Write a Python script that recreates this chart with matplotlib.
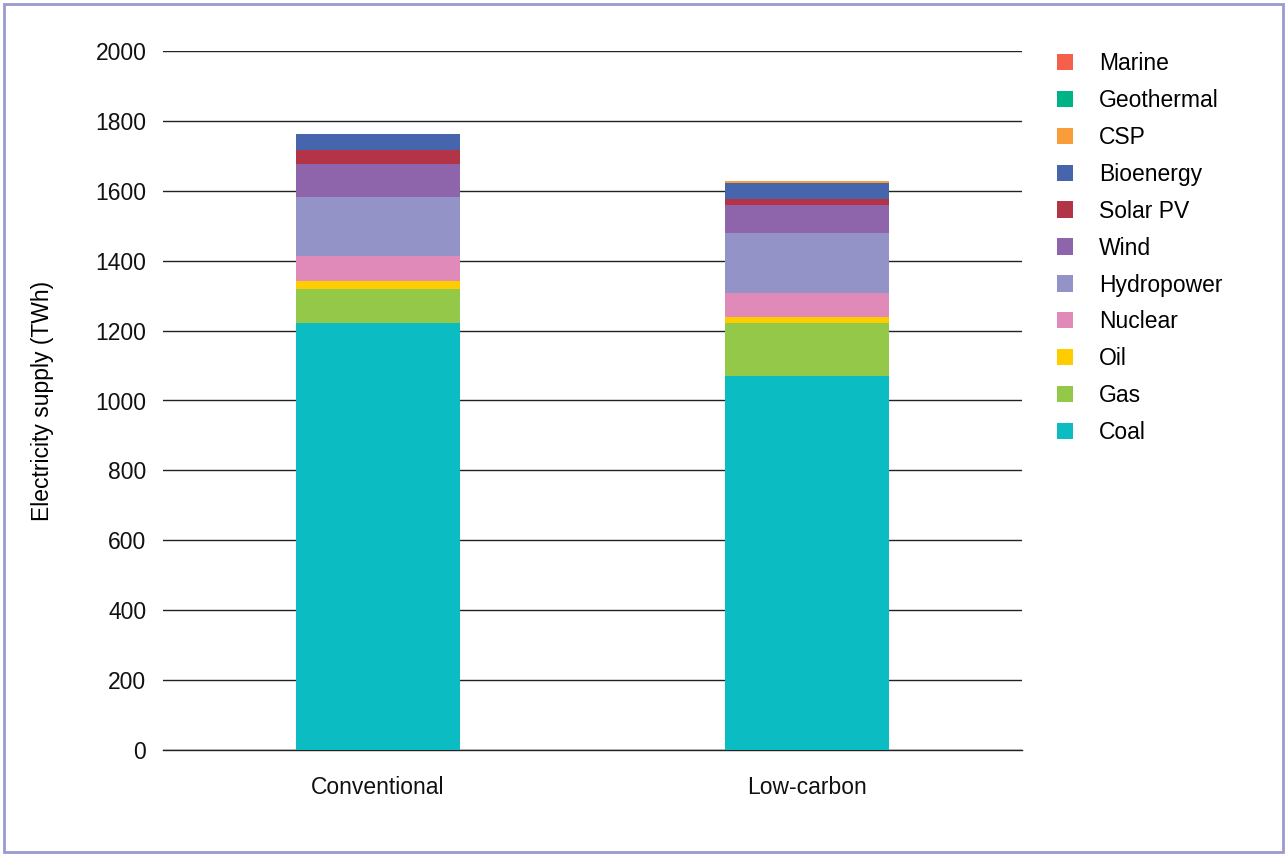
import numpy as np
import matplotlib
matplotlib.use("Agg")
import matplotlib.pyplot as plt
from matplotlib.patches import Rectangle

plt.rcParams['font.family'] = ['Liberation Sans', 'DejaVu Sans']

scenarios = ["Conventional", "Low-carbon"]
sources = ["Coal", "Gas", "Oil", "Nuclear", "Hydropower", "Wind",
           "Solar PV", "Bioenergy", "CSP", "Geothermal", "Marine"]
colors = ["#0BBCC3", "#93C849", "#FFCC00", "#E08AB9", "#9393C8", "#8E65AA",
          "#B33446", "#4765AC", "#F99C3A", "#00B386", "#F4604C"]

# TWh, per scenario: [Conventional, Low-carbon]
coal = [1222, 1070]
gas = [97, 152]
oil = [23, 17]
nuclear = [71, 69]
hydro = [169, 172]
wind = [95, 80]
solar_pv = [41, 17]
bioenergy = [45, 46]
csp = [0, 6]
geothermal = [0, 0]
marine = [0, 0]

values = [coal, gas, oil, nuclear, hydro, wind, solar_pv, bioenergy, csp, geothermal, marine]

fig = plt.figure(figsize=(12.87, 8.55), dpi=100)
ax = fig.add_axes([163/1287, 1 - 750/855, 859/1287, 699/855])

x = np.arange(len(scenarios))
bottom = np.zeros(len(scenarios))
handles = []
for name, vals, c in zip(sources, values, colors):
    b = ax.bar(x, vals, 0.383, bottom=bottom, color=c, label=name, zorder=3)
    handles.append(b)
    bottom += np.array(vals)

ax.set_xlim(-0.5, 1.5)
ax.set_ylim(0, 2000)
ax.set_yticks(np.arange(0, 2001, 200))
ax.grid(axis='y', color='#222222', linewidth=1.0, zorder=0)
ax.axhline(0, color='#222222', linewidth=1.0, zorder=2, clip_on=False)
for s in ax.spines.values():
    s.set_visible(False)
ax.tick_params(axis='both', length=0, labelsize=16.5, colors='#111111')
ax.tick_params(axis='y', pad=12)
ax.tick_params(axis='x', pad=19)
ax.set_xticks(x)
ax.set_xticklabels(scenarios)
ax.set_ylabel("Electricity supply (TWh)", fontsize=16.5, labelpad=30)

leg = ax.legend(handles[::-1], sources[::-1], loc='upper left',
                bbox_to_anchor=(1036/1287, 1 - 31/855), bbox_transform=fig.transFigure,
                frameon=False, fontsize=16.5, handlelength=0.7, handleheight=0.7,
                handletextpad=1.15, labelspacing=0.61)

fig.patches.append(Rectangle((4/1287, 3/855), 1279/1287, 848/855, transform=fig.transFigure,
                             fill=False, edgecolor='#9B9BD0', linewidth=2))

fig.savefig("out.png", dpi=100)
